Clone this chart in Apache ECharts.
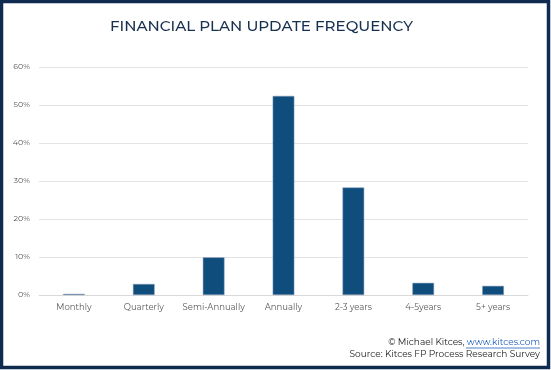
<!DOCTYPE html>
<html><head><meta charset="utf-8">
<script src="https://cdn.jsdelivr.net/npm/echarts@6/dist/echarts.min.js"></script>
<style>html,body{margin:0;padding:0;background:#fff}#c{width:551px;height:370px}</style>
</head><body><div id="c"></div>
<script>
const categories = ['Monthly','Quarterly','Semi-Annually','Annually','2-3 years','4-5years','5+ years'];
const values = [0.3, 2.9, 9.9, 52.4, 28.3, 3.2, 2.4];
const yTicks = [0, 10, 20, 30, 40, 50, 60];
const titleText = 'FINANCIAL PLAN UPDATE FREQUENCY';
const creditLine = '© Michael Kitces, ';
const creditLink = 'www.kitces.com';
const sourceLine = 'Source: Kitces FP Process Research Survey';

const chart = echarts.init(document.getElementById('c'), null, {renderer:'canvas'});
const font = 'Montserrat, "Open Sans", "Noto Sans", sans-serif';
chart.setOption({
  animation:false,
  backgroundColor:'#fff',
  title:{text:titleText,left:105,top:14,textStyle:{fontFamily:font,fontSize:15.1,fontWeight:500,color:'#17304f'}},
  grid:{left:39,right:23,top:67,bottom:75,containLabel:false},
  xAxis:{type:'category',data:categories,
    axisLine:{lineStyle:{color:'#d9d9d9'}},axisTick:{show:false},
    axisLabel:{color:'#595959',fontSize:8.5,fontFamily:font,margin:8,interval:0}},
  yAxis:{type:'value',min:yTicks[0],max:yTicks[yTicks.length-1],interval:10,
    axisLine:{show:false},axisTick:{show:false},
    splitLine:{lineStyle:{color:'#e3e3e3'}},
    axisLabel:{color:'#595959',fontSize:8,fontFamily:font,formatter:v=>v+'%',margin:9}},
  series:[{type:'bar',data:values,barWidth:'31%',
    itemStyle:{color:'#0f4d7d',borderColor:'#8a9dba',borderWidth:0.5}}],
  graphic:[
    {type:'rect',shape:{x:1.5,y:1.5,width:547,height:366},style:{fill:'none',stroke:'#0f2b4f',lineWidth:3.5},z:100},
    {type:'text',right:11,top:338,style:{
      text:'{a|'+creditLine+'}{b|'+creditLink+'}',
      rich:{a:{fontSize:9,fontFamily:font,fill:'#1a1a1a'},b:{fontSize:9,fontFamily:font,fill:'#1f5fbf'}}}},
    {type:'line',shape:{x1:466,y1:348,x2:540,y2:348},style:{stroke:'#1f5fbf',lineWidth:0.8}},
    {type:'text',right:11,top:350,style:{text:sourceLine,fontSize:9,fontFamily:font,fill:'#1a1a1a'}}
  ]
});
</script></body></html>
